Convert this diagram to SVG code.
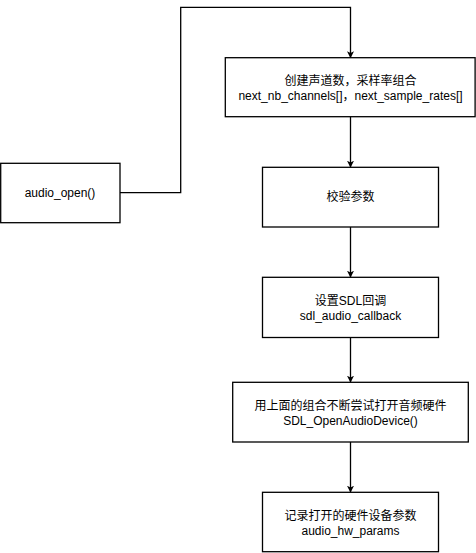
<svg xmlns="http://www.w3.org/2000/svg" width="476" height="553" viewBox="0 0 476 553">
<style>
.box{fill:#fff;stroke:#000;stroke-width:1.3}
.t{font-family:"Liberation Sans","Noto Sans CJK SC",sans-serif;font-size:12px;fill:#000;text-anchor:middle}
.c{fill:none;stroke:#000;stroke-width:1.3}
</style>
<defs>
<marker id="arr" viewBox="0 0 10 10" refX="9" refY="5" markerWidth="7" markerHeight="7" orient="auto" markerUnits="userSpaceOnUse">
<path d="M0,0 L10,5 L0,10 L2.5,5 Z" fill="#000"/>
</marker>
</defs>
<rect width="476" height="553" fill="#fff"/>
<g id="connectors">
<path class="c" d="M120,192.7 H180.7 V7.3 H350.5 V57.5" marker-end="url(#arr)"/>
<path class="c" d="M350.5,117 V167" marker-end="url(#arr)"/>
<path class="c" d="M350.5,227 V277" marker-end="url(#arr)"/>
<path class="c" d="M350.5,337.5 V382" marker-end="url(#arr)"/>
<path class="c" d="M350.5,442 V492" marker-end="url(#arr)"/>
</g>
<g id="audio_open">
<rect class="box" x="0.7" y="163.3" width="119.3" height="59.4"/>
<text class="t" x="60" y="197">audio_open()</text>
</g>
<g id="create">
<rect class="box" x="225.3" y="57.7" width="249.8" height="59"/>
<text class="t" x="350.5" y="85">创建声道数，采样率组合</text>
<text class="t" x="350.5" y="100">next_nb_channels[]，next_sample_rates[]</text>
</g>
<g id="check">
<rect class="box" x="262.5" y="167.3" width="176" height="59.7"/>
<text class="t" x="350.5" y="201">校验参数</text>
</g>
<g id="callback">
<rect class="box" x="262.5" y="277.3" width="176" height="60.2"/>
<text class="t" x="350.5" y="305">设置SDL回调</text>
<text class="t" x="350.5" y="319.5">sdl_audio_callback</text>
</g>
<g id="open_device">
<rect class="box" x="232.7" y="382.3" width="235.6" height="59.7"/>
<text class="t" x="350.5" y="409.5">用上面的组合不断尝试打开音频硬件</text>
<text class="t" x="350.5" y="424.5">SDL_OpenAudioDevice()</text>
</g>
<g id="record">
<rect class="box" x="262.5" y="492.3" width="176" height="59.4"/>
<text class="t" x="350.5" y="519.5">记录打开的硬件设备参数</text>
<text class="t" x="350.5" y="534.5">audio_hw_params</text>
</g>
</svg>
